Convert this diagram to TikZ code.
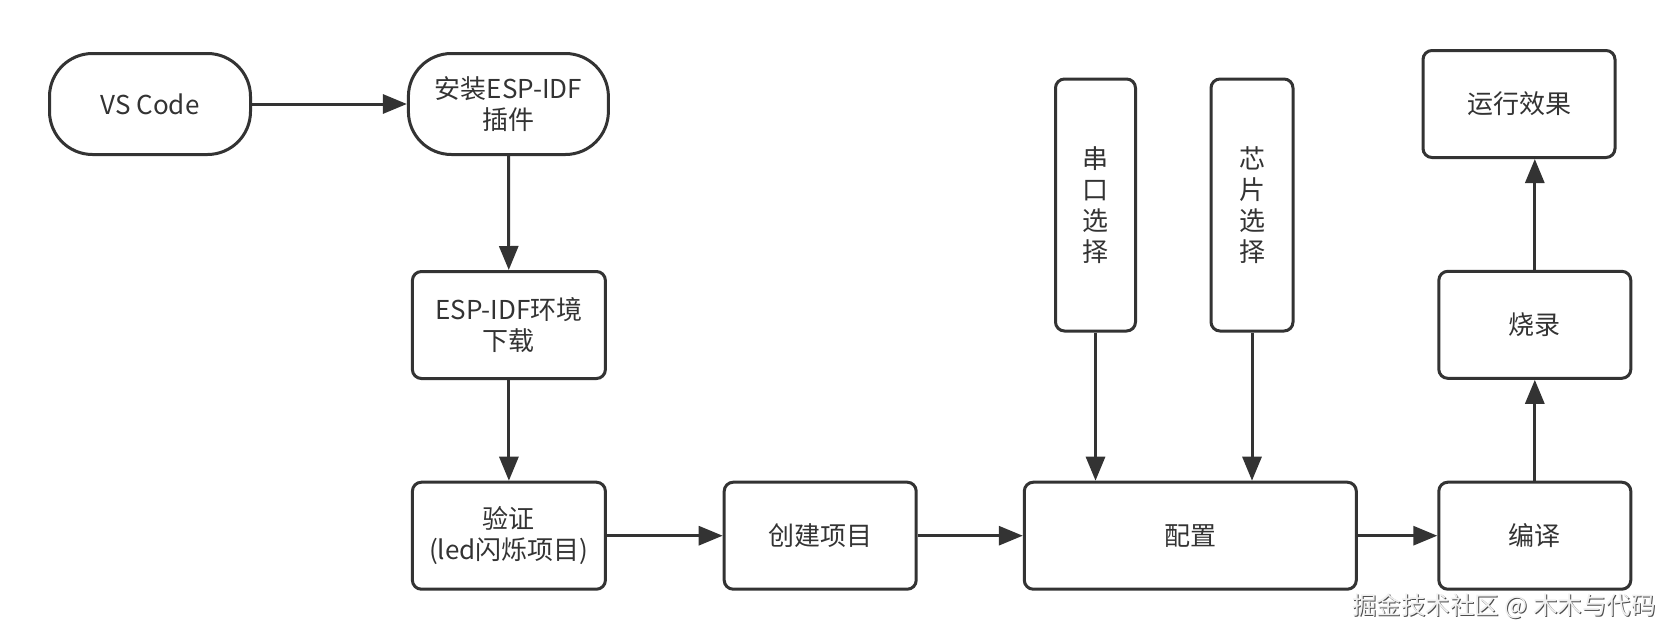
\documentclass[tikz,border=0pt]{standalone}
\usepackage{fontspec}
\setmainfont{Noto Sans CJK SC}
\usetikzlibrary{arrows.meta}
\definecolor{ink}{HTML}{333333}
\begin{document}
\begin{tikzpicture}[x=1pt,y=-1pt,
  box/.style={draw=ink,line width=3pt,fill=white,rounded corners=9pt,inner sep=0pt,
    text=ink,align=center,font=\fontsize{26}{30.5}\selectfont},
  pill/.style={box,rounded corners=43pt},
  vbox/.style={box,font=\fontsize{26}{31}\selectfont},
  conn/.style={draw=ink,line width=3pt,-{Triangle[length=24pt,width=19pt]}}]
\useasboundingbox[fill=white] (0,0) rectangle (1680,640);
\node[pill,minimum width=201pt,minimum height=101pt] (vs) at (150,104) {VS Code};
\node[pill,minimum width=200pt,minimum height=101pt] (inst) at (508.4,104) {安装ESP-IDF\\插件};
\node[box,minimum width=193pt,minimum height=107pt] (env) at (508.9,325) {ESP-IDF环境\\下载};
\node[box,minimum width=193pt,minimum height=107pt] (ver) at (508.9,535.7) {验证\\(led闪烁项目)};
\node[box,minimum width=192pt,minimum height=107pt] (proj) at (820.2,535.7) {创建项目};
\node[box,minimum width=332pt,minimum height=107pt] (cfg) at (1190.3,535.7) {配置};
\node[box,minimum width=192pt,minimum height=107pt] (comp) at (1534.8,535.7) {编译};
\node[box,minimum width=192pt,minimum height=107pt] (burn) at (1534.8,324.8) {烧录};
\node[box,minimum width=192pt,minimum height=107pt] (run) at (1519,104) {运行效果};
\node[vbox,minimum width=80pt,minimum height=252pt] (port) at (1095.5,205) {串\\口\\选\\择};
\node[vbox,minimum width=82pt,minimum height=252pt] (chip) at (1252,205) {芯\\片\\选\\择};
\draw[conn] (vs) -- (inst);
\draw[conn] (inst) -- (env);
\draw[conn] (env) -- (ver);
\draw[conn] (ver) -- (proj);
\draw[conn] (proj) -- (cfg);
\draw[conn] (cfg) -- (comp);
\draw[conn] (comp) -- (burn);
\draw[conn] (burn.north) -- (burn.north |- run.south);
\draw[conn] (port.south) -- (port.south |- cfg.north);
\draw[conn] (chip.south) -- (chip.south |- cfg.north);
\node[text=black!70,font=\fontsize{24.5}{28}\selectfont] (wms) at (1505,607) {掘金技术社区 @ 木木与代码};
\node[text=black!6,font=\fontsize{24.5}{28}\selectfont] (wm) at (1504,606) {掘金技术社区 @ 木木与代码};
\end{tikzpicture}
\end{document}
